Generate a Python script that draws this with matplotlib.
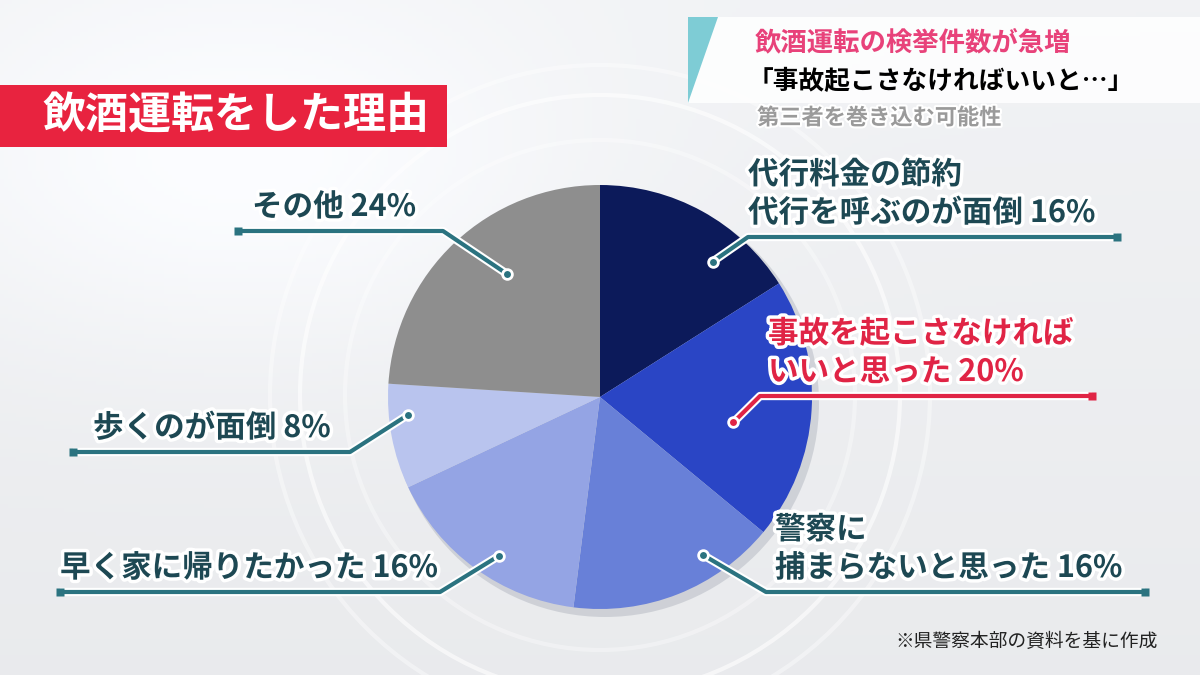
import numpy as np
import matplotlib.pyplot as plt
import matplotlib.patheffects as pe
from matplotlib.patches import Rectangle, Polygon, Circle

plt.rcParams['font.family'] = ['Noto Sans CJK JP', 'DejaVu Sans']

# データ（時計回り、12時の位置から）
reasons = ['代行料金の節約\n代行を呼ぶのが面倒', '事故を起こさなければ\nいいと思った', '警察に\n捕まらないと思った',
           '早く家に帰りたかった', '歩くのが面倒', 'その他']
shares = [16, 20, 16, 16, 8, 24]
colors = ['#0c1a5a', '#2a45c5', '#6880d8', '#94a4e4', '#b9c4ee', '#8e8e8e']
highlight = [False, True, False, False, False, False]

title = '飲酒運転をした理由'
head1 = '飲酒運転の検挙件数が急増'
head2 = '「事故起こさなければいいと…」'
head3 = '第三者を巻き込む可能性'
source = '※県警察本部の資料を基に作成'

W, H = 1200, 675
fig = plt.figure(figsize=(12, 6.75), dpi=100)
ax = fig.add_axes([0, 0, 1, 1])
ax.set_xlim(0, W)
ax.set_ylim(0, H)
ax.set_aspect('equal')
ax.axis('off')

# 背景
gx = np.linspace(0, 1, 300)
gy = np.linspace(0, 1, 170)
GX, GY = np.meshgrid(gx, gy)
bg = 0.93 + 0.05 * np.exp(-((GX - 0.2) ** 2 + (GY - 0.75) ** 2) / 0.08) + 0.03 * GY
bg = np.clip(bg, 0, 1)
rgb = np.dstack([bg * 0.985, bg * 0.99, bg])
ax.imshow(rgb, extent=[0, W, 0, H], origin='lower', zorder=0, aspect='auto')
for r, a in [(300, 0.6), (330, 0.4), (255, 0.35)]:
    ax.add_patch(Circle((600, 280), r, fill=False, ec='white', lw=3, alpha=a, zorder=1))

cx, cy, R = 600, 278, 212

# 影
ax.add_patch(Circle((cx + 5, cy - 6), R + 2, fc='#9aa0ad', ec='none', alpha=0.35, zorder=2))

wedges, _ = ax.pie(shares, colors=colors, startangle=90, counterclock=False,
                   center=(cx, cy), radius=R, frame=True,
                   wedgeprops=dict(linewidth=0, zorder=3))
ax.set_xlim(0, W)
ax.set_ylim(0, H)
ax.axis('off')

# ラベル配置: (扇形内の角度位置, 半径比, 折れ点x, 折れ点y, 線端x, 文字x)
layout = [
    (0.31, 0.83, 748, 438, 1117, 748),
    (0.40, 0.64, 760, 279, 1092, 768),
    (0.70, 0.89, 766, 83, 1145, 775),
    (0.56, 0.89, 440, 83, 60, 60),
    (0.31, 0.91, 350, 223, 73, 93),
    (0.43, 0.73, 443, 444, 238, 252),
]

teal = '#2b7380'
txt_col = '#1d4853'
red = '#e02445'
outline = [pe.withStroke(linewidth=5, foreground='white')]

for i, w in enumerate(wedges):
    fa, rf, ex, ey, lx, tx = layout[i]
    t1, t2 = w.theta1, w.theta2
    ang = np.deg2rad(t1 + fa * (t2 - t1))
    dx = cx + rf * R * np.cos(ang)
    dy = cy + rf * R * np.sin(ang)
    c = red if highlight[i] else teal
    tc = red if highlight[i] else txt_col
    ax.plot([dx, ex, lx], [dy, ey, ey], color=c, lw=3, zorder=5, solid_capstyle='butt',
            path_effects=[pe.withStroke(linewidth=6, foreground='white')])
    ax.plot([dx], [dy], 'o', ms=7, color=c, mec='white', mew=2, zorder=6)
    ax.plot([lx], [ey], 's', ms=6, color=c, mec='none', zorder=6)
    label = f'{reasons[i]} {shares[i]}%'
    ax.text(tx, ey + 8, label, ha='left', va='bottom', fontsize=22, color=tc,
            fontweight='bold', linespacing=1.25, zorder=7, path_effects=outline)

# タイトル帯
ax.add_patch(Rectangle((0, 528), 447, 62, fc='#e8233f', ec='none', zorder=4))
ax.text(42, 560, title, ha='left', va='center', fontsize=31, color='white',
        fontweight='bold', zorder=5)

# 右上見出し
ax.add_patch(Rectangle((688, 572), 512, 86, fc='white', ec='none', alpha=0.85, zorder=4))
ax.add_patch(Polygon([(688, 572), (688, 658), (718, 658)], closed=True, fc='#5fc0cc',
                     ec='none', alpha=0.8, zorder=5))
ax.text(755, 632, head1, ha='left', va='center', fontsize=19, color='#e8427a',
        fontweight='bold', zorder=6)
ax.text(748, 594, head2, ha='left', va='center', fontsize=18.5, color='black',
        fontweight='bold', zorder=6)
ax.text(757, 557, head3, ha='left', va='center', fontsize=16, color='#9a9a9a',
        fontweight='bold', zorder=6, path_effects=[pe.withStroke(linewidth=3, foreground='white')])

ax.text(1158, 34, source, ha='right', va='center', fontsize=13.5, color='#222222', zorder=6)

fig.savefig('out.png', dpi=100)
